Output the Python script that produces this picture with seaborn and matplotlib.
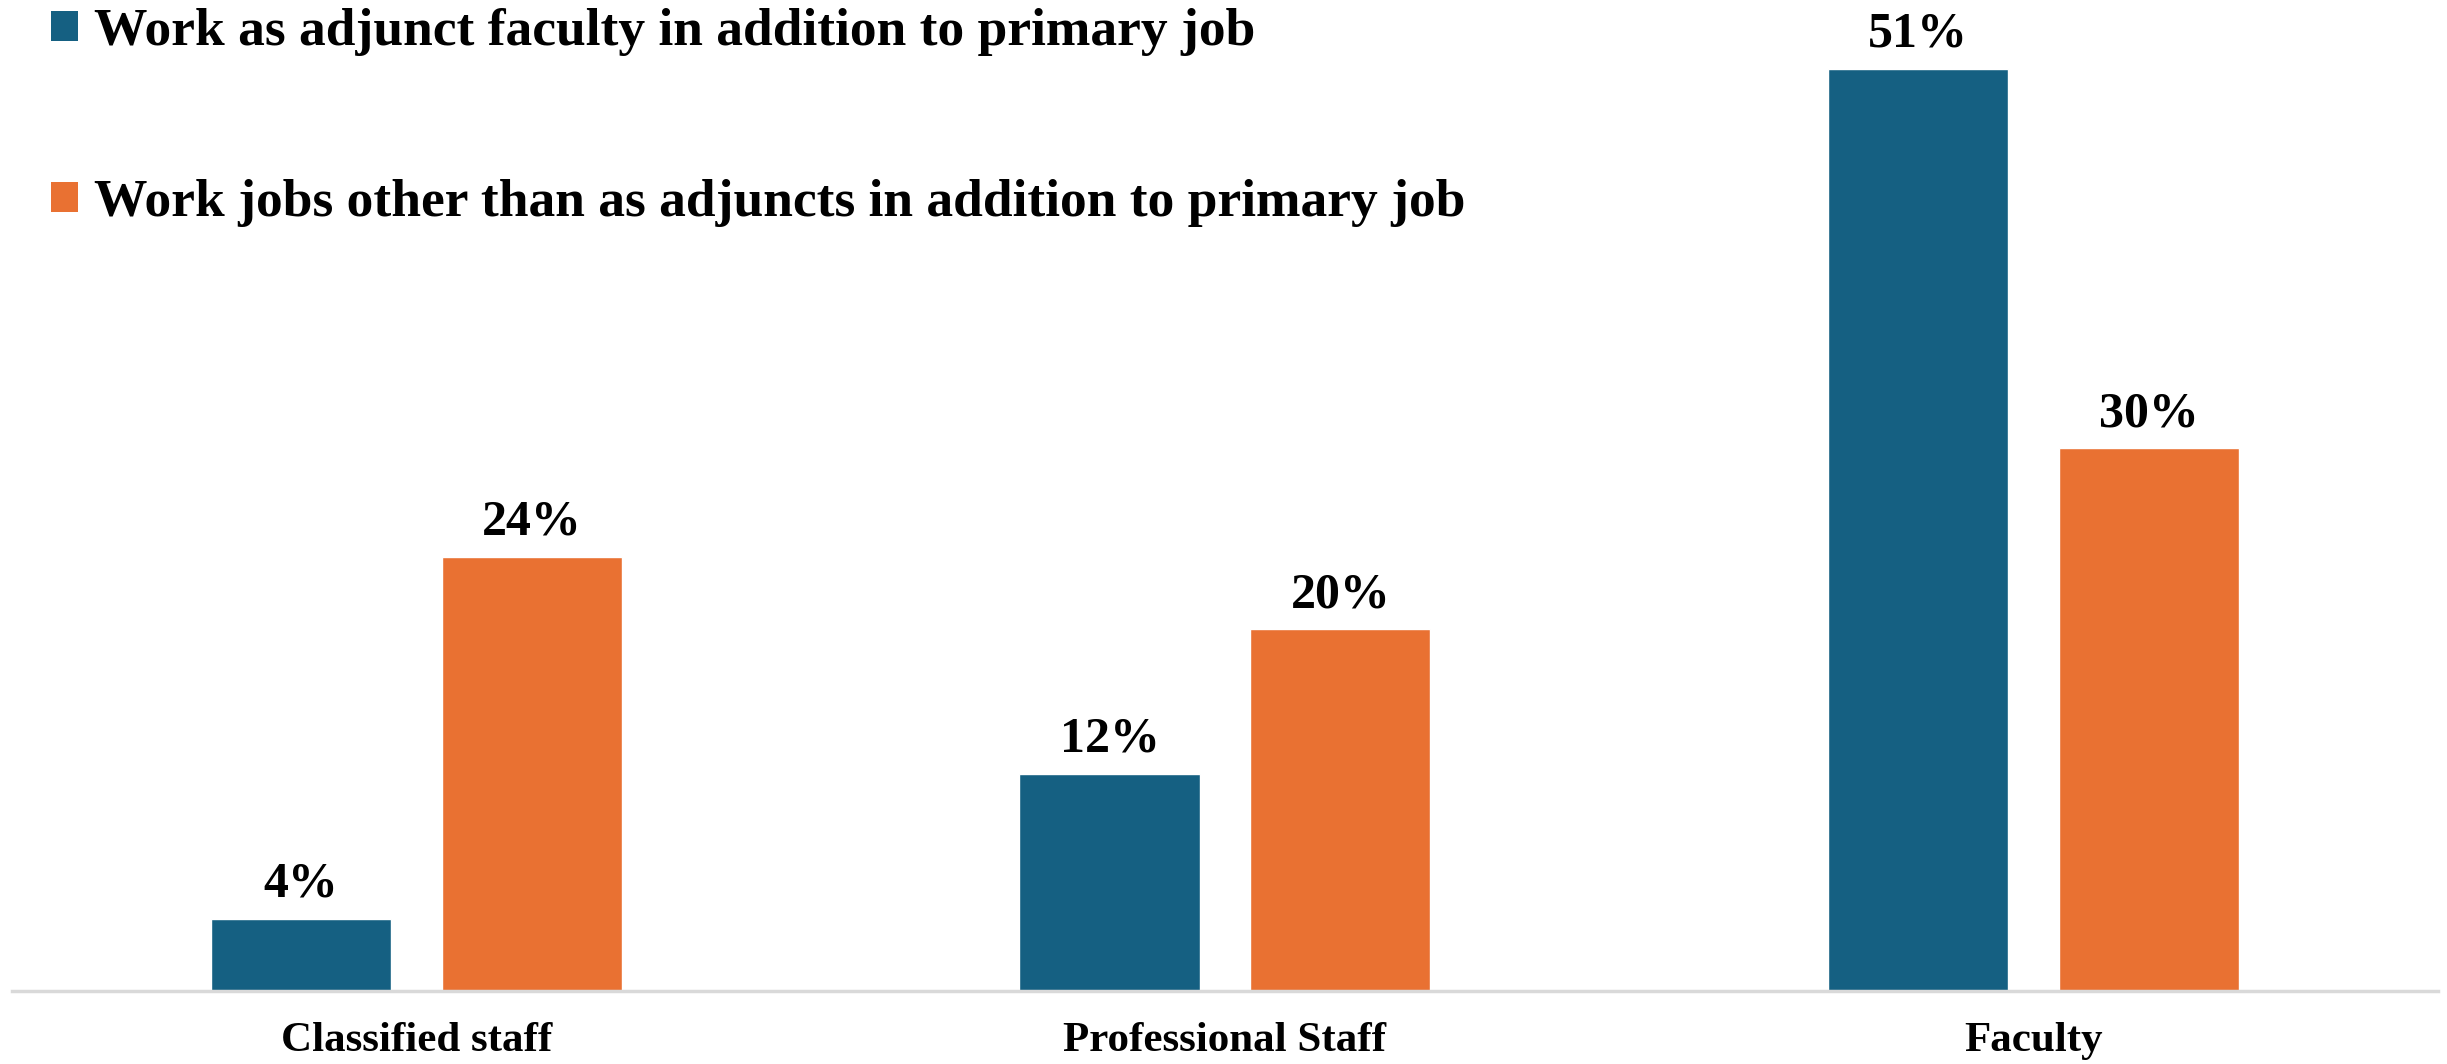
import matplotlib
matplotlib.use("Agg")
import matplotlib.pyplot as plt
import seaborn as sns
import pandas as pd
from matplotlib.patches import Patch

categories = ["Classified staff", "Professional Staff", "Faculty"]
series_names = [
    "Work as adjunct faculty in addition to primary job",
    "Work jobs other than as adjuncts in addition to primary job",
]
adjunct_values = [4, 12, 51]
other_values = [24, 20, 30]
colors = ["#156082", "#E97132"]

df = pd.DataFrame({
    "category": categories * 2,
    "series": [series_names[0]] * 3 + [series_names[1]] * 3,
    "value": adjunct_values + other_values,
})

sns.set_theme(style="white")
plt.rcParams["font.family"] = ["Liberation Serif", "DejaVu Serif"]
plt.rcParams["font.weight"] = "bold"
plt.rcParams["text.color"] = "black"
plt.rcParams["xtick.color"] = "black"
plt.rcParams["xtick.labelcolor"] = "black"

fig = plt.figure(figsize=(24.47, 10.64), dpi=100)
ax = fig.add_axes([0.0049, 0.0686, 0.9914, 0.9314])

sns.barplot(data=df, x="category", y="value", hue="series",
            hue_order=series_names, order=categories,
            palette=colors, width=0.571, gap=0.22, saturation=1,
            errorbar=None, ax=ax, legend=False)

for cont in ax.containers:
    ax.bar_label(cont, fmt="%d%%", padding=8, fontsize=36,
                 fontweight="bold", color="black")

ax.set_xlim(-0.5, 2.5)
ax.set_ylim(0, 54.8)
ax.set_xlabel("")
ax.set_ylabel("")
ax.set_yticks([])
for s in ["top", "right", "left"]:
    ax.spines[s].set_visible(False)
ax.spines["bottom"].set_color("#d9d9d9")
ax.spines["bottom"].set_linewidth(2.5)
ax.tick_params(axis="x", length=0, pad=22, labelsize=31, labelcolor="black")
for lbl in ax.get_xticklabels():
    lbl.set_fontweight("bold")

handles = [Patch(facecolor=c, edgecolor="none") for c in colors]
leg = ax.legend(handles, series_names, loc="upper left",
                bbox_to_anchor=(0.0129, 1.0), frameon=False,
                prop={"size": 38.5, "weight": "bold"},
                handlelength=0.5, handleheight=0.5, handletextpad=0.3,
                labelspacing=2.3, borderaxespad=0.0, borderpad=0.15,
                labelcolor="black")

fig.savefig("out.png", dpi=100)
